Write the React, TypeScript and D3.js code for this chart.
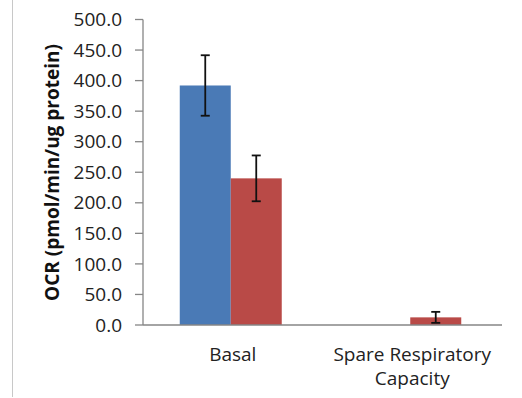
import * as d3 from 'd3';
import React from 'react';

// chart values
const categories = ['Basal', 'Spare Respiratory\nCapacity'];
const seriesNames = ['A', 'B'];
const seriesA = [392, 0];
const seriesB = [240, 12.5];
const errorsA = [49.5, 0];
const errorsB = [37.5, 9];
const yTicks = [0, 50, 100, 150, 200, 250, 300, 350, 400, 450, 500];
const colors = ['#4a7ab6', '#b94a47'];

const width = 522;
const height = 398;
const margin = { left: 143, right: 20, top: 19.5, bottom: 73 };

function App() {
  const x0 = d3.scaleBand<string>()
    .domain(categories)
    .range([margin.left, 502])
    .paddingInner(0)
    .paddingOuter(0);

  const x1 = d3.scaleBand<string>()
    .domain(seriesNames)
    .range([-2, x0.bandwidth() - 2])
    .paddingInner(0)
    .paddingOuter(0.76);

  const y = d3.scaleLinear()
    .domain([0, 500])
    .range([325, margin.top]);

  const series = [
    { name: 'A', values: seriesA, errs: errorsA },
    { name: 'B', values: seriesB, errs: errorsB },
  ];

  const font = '"Open Sans", sans-serif';
  const axisColor = '#868686';

  return (
    <div style={{ position: 'absolute', left: 0, top: 0, width, height, background: '#fff' }}>
      <svg width={width} height={height}>
        {/* frame line on the left */}
        <line x1={12.5} x2={12.5} y1={0} y2={397} stroke="#c8c8c8" strokeWidth={1} />

        {/* bars */}
        {series.map((s, si) => (
          <g key={s.name}>
            {s.values.map((v, i) => v > 0 && (
              <rect
                key={i}
                x={x0(categories[i])! + x1(s.name)!}
                y={y(v)}
                width={x1.bandwidth()}
                height={y(0) - y(v)}
                fill={colors[si]}
              />
            ))}
          </g>
        ))}

        {/* error bars */}
        {series.map((s) => (
          <g key={'e' + s.name}>
            {s.values.map((v, i) => {
              if (v <= 0) return null;
              const cx = x0(categories[i])! + x1(s.name)! + x1.bandwidth() / 2;
              const hi = y(v + s.errs[i]);
              const lo = y(v - s.errs[i]);
              return (
                <g key={i} stroke="#111" strokeWidth={1.8}>
                  <line x1={cx} x2={cx} y1={hi} y2={lo} />
                  <line x1={cx - 4.5} x2={cx + 4.5} y1={hi} y2={hi} />
                  <line x1={cx - 4.5} x2={cx + 4.5} y1={lo} y2={lo} />
                </g>
              );
            })}
          </g>
        ))}

        {/* y axis */}
        <line x1={margin.left} x2={margin.left} y1={y(500)} y2={y(0)} stroke={axisColor} strokeWidth={1.3} />
        {yTicks.map((t) => (
          <g key={t}>
            <line x1={135} x2={margin.left} y1={y(t)} y2={y(t)} stroke={axisColor} strokeWidth={1.3} />
            <text
              x={122}
              y={y(t)}
              dy="0.35em"
              textAnchor="end"
              fontFamily={font}
              fontSize={19}
              fill="#222"
            >
              {t.toFixed(1)}
            </text>
          </g>
        ))}

        {/* x axis */}
        <line x1={margin.left} x2={502} y1={y(0)} y2={y(0)} stroke={axisColor} strokeWidth={1.3} />
        {categories.map((c) => {
          const lines = c.split('\n');
          const cx = x0(c)! + x0.bandwidth() / 2;
          return (
            <text key={c} x={cx} y={361} textAnchor="middle" fontFamily={font} fontSize={19} fill="#222">
              {lines.map((l, i) => (
                <tspan key={i} x={cx} dy={i === 0 ? 0 : 24}>{l}</tspan>
              ))}
            </text>
          );
        })}

        {/* y axis title */}
        <text
          transform={`translate(59,172.5) rotate(-90)`}
          textAnchor="middle"
          fontFamily={font}
          fontWeight="bold"
          fontSize={19}
          fill="#111"
        >
          OCR (pmol/min/ug protein)
        </text>
      </svg>
    </div>
  );
}

export default App;
